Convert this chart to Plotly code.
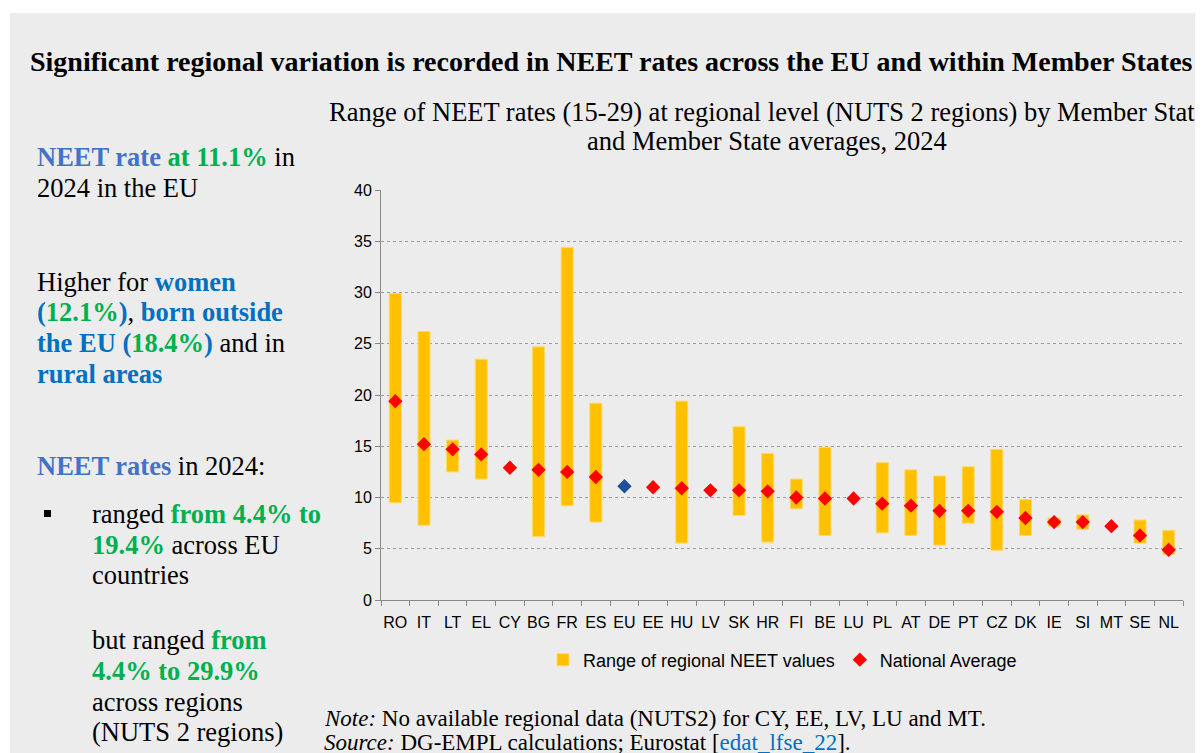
import plotly.graph_objects as go

countries = ["RO","IT","LT","EL","CY","BG","FR","ES","EU","EE","HU","LV","SK","HR",
             "FI","BE","LU","PL","AT","DE","PT","CZ","DK","IE","SI","MT","SE","NL"]
regional_min = [9.5,7.3,12.5,11.8,None,6.2,9.2,7.6,None,None,5.55,None,8.25,5.65,
                8.9,6.3,None,6.55,6.3,5.35,7.5,4.85,6.3,7.2,6.9,None,5.55,4.45]
regional_max = [29.9,26.2,15.6,23.5,None,24.7,34.4,19.2,None,None,19.4,None,16.9,14.3,
                11.8,14.9,None,13.4,12.7,12.1,13.0,14.7,9.8,8.0,8.3,None,7.8,6.8]
national_avg = [19.4,15.2,14.7,14.2,12.9,12.7,12.5,12.0,11.1,11.0,10.9,10.7,10.7,10.6,
                10.0,9.9,9.9,9.4,9.2,8.7,8.7,8.6,8.0,7.6,7.6,7.2,6.3,4.9]

W, H = 1203, 753
OFF = 8  # page body margin
# plot area in page pixels
PL, PR, PT, PB = 381, 1183, 190, 600
L, R, T, B = PL - OFF, PR - OFF, PT - OFF, PB - OFF

def X(px):  # page pixel -> paper x
    return (px - OFF - L) / (R - L)

def Y(py):  # page pixel -> paper y
    return (B - (py - OFF)) / (B - T)

heights = [None if lo is None else hi - lo for lo, hi in zip(regional_min, regional_max)]
avg_colors = ["#1f4e9c" if c == "EU" else "#ff0000" for c in countries]

fig = go.Figure()
fig.add_trace(go.Bar(
    x=countries, y=heights, base=regional_min, width=0.42,
    marker=dict(color="#ffc000", line=dict(color="#ffd966", width=1)),
    name="Range of regional NEET values", hoverinfo="skip"))
fig.add_trace(go.Scatter(
    x=countries, y=national_avg, mode="markers",
    marker=dict(symbol="diamond", size=11, color=avg_colors),
    name="National Average"))

GREY = "#ececec"
serif = "Liberation Serif"
sans = "Liberation Sans"
BLUE1 = "#4472c4"
BLUE2 = "#0070c0"
GREEN = "#00b050"

ann = []
def txt(px, py, text, size=26.5, anchor="left", font=serif, color="black"):
    ann.append(dict(x=X(px), y=Y(py), xref="paper", yref="paper", text=text,
                    showarrow=False, xanchor=anchor, yanchor="middle", align=anchor,
                    font=dict(family=font, size=size, color=color)))

def c(t, col, bold=True):
    s = f"<span style='color:{col}'>{t}</span>"
    return f"<b>{s}</b>" if bold else s

txt(28, 62, "<b>Significant regional variation is recorded in NEET rates across the EU and within Member States</b>", size=28)
txt(767, 112, "Range of NEET rates (15-29) at regional level (NUTS 2 regions) by Member State", size=26.5, anchor="center")
txt(767, 141, "and Member State averages, 2024", size=26.5, anchor="center")

txt(35, 157, c("NEET rate", BLUE1) + " " + c("at 11.1%", GREEN) + " in")
txt(35, 188, "2024 in the EU")
txt(35, 282, "Higher for " + c("women", BLUE2))
txt(35, 312, c("(", BLUE2) + c("12.1%", GREEN) + c(")", BLUE2) + ", " + c("born outside", BLUE2))
txt(35, 343, c("the EU (", BLUE2) + c("18.4%", GREEN) + c(")", BLUE2) + " and in")
txt(35, 374, c("rural areas", BLUE2))
txt(35, 466, c("NEET rates", BLUE1) + " in 2024:")
txt(90, 514, "ranged " + c("from 4.4% to", GREEN))
txt(90, 545, c("19.4%", GREEN) + " across EU")
txt(90, 575, "countries")
txt(90, 640, "but ranged " + c("from", GREEN))
txt(90, 671, c("4.4% to 29.9%", GREEN))
txt(90, 702, "across regions")
txt(90, 732, "(NUTS 2 regions)")

txt(322, 718, "<i>Note:</i> No available regional data (NUTS2) for CY, EE, LV, LU and MT.", size=23)
txt(322, 742, "<i>Source:</i> DG-EMPL calculations; Eurostat [" + c("edat_lfse_22", BLUE2, bold=False) + "].", size=23)

shapes = [
    dict(type="rect", xref="paper", yref="paper", x0=X(0), x1=X(W + OFF), y0=Y(13), y1=Y(0),
         fillcolor="white", line=dict(width=0), layer="above"),
    dict(type="rect", xref="paper", yref="paper", x0=X(0), x1=X(10), y0=Y(H + OFF), y1=Y(0),
         fillcolor="white", line=dict(width=0), layer="above"),
    dict(type="rect", xref="paper", yref="paper", x0=X(44), x1=X(51), y0=Y(517), y1=Y(510),
         fillcolor="black", line=dict(width=0)),
]

fig.update_layout(
    width=W, height=H,
    margin=dict(l=L, r=W - R, t=T, b=H - B, pad=0),
    paper_bgcolor=GREY, plot_bgcolor=GREY,
    font=dict(family=sans, size=16, color="black"),
    showlegend=True,
    legend=dict(orientation="h", x=X(543), y=Y(660), xanchor="left", yanchor="middle",
                font=dict(family=sans, size=18), bgcolor="rgba(0,0,0,0)", itemwidth=30,
                traceorder="normal"),
    bargap=0.5,
    annotations=ann, shapes=shapes,
    xaxis=dict(type="category", range=[-0.5, len(countries) - 0.5], autorange=False,
               showline=True, linecolor="#888888", linewidth=1,
               ticks="outside", tickson="boundaries", ticklen=5, tickcolor="#888888",
               ticklabelstandoff=8,
               showgrid=False, tickangle=0, tickfont=dict(family=sans, size=16), fixedrange=True),
    yaxis=dict(range=[0, 40], dtick=5, showline=True, linecolor="#888888", linewidth=1,
               ticks="outside", ticklen=5, tickcolor="#888888",
               showgrid=True, gridcolor="#9a9a9a", griddash="dot", gridwidth=1,
               zeroline=False, tickfont=dict(family=sans, size=16)),
)

fig.write_html("out.html")
